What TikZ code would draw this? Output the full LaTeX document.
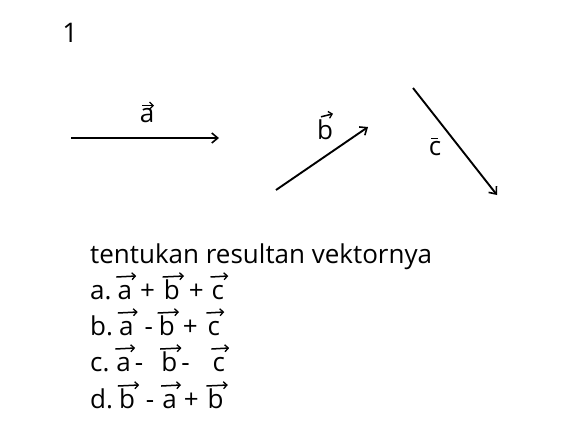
\documentclass[tikz,border=0pt]{standalone}
\usepackage{fontspec}
\setmainfont{Open Sans}
\usetikzlibrary{arrows.meta}
\tikzset{
  vec/.style={line width=1.9pt,-{Straight Barb[length=6pt,width=10pt,line width=1.6pt]}},
  lbl/.style={inner sep=0pt,font=\fontsize{26}{28}\selectfont},
  txt/.style={inner sep=0pt,anchor=base west,font=\fontsize{26}{28}\selectfont},
  sarr/.style={line width=1.5pt,-{Straight Barb[length=3.5pt,width=7pt,line width=1.3pt]}}
}
\newcommand\vecl[1]{\tikz[baseline=(X.base)]{\node[inner sep=0pt,anchor=base,draw=none] (X) at (0,0) {#1};
  \draw[sarr,overlay] ([xshift=-1pt,yshift=22pt]X.base west) -- ([xshift=4pt,yshift=23pt]X.base east);}}
\newcommand\hs[1]{\hspace{#1pt}}
\begin{document}
\begin{tikzpicture}[x=1pt,y=-1pt]
\useasboundingbox (0,0) rectangle (583,442);
\node[inner sep=0pt,font=\fontsize{27}{28}\selectfont] (num) at (70,33) {1};
% vectors
\coordinate (a0) at (71,138); \coordinate (a1) at (219,138);
\coordinate (b0) at (276,190); \coordinate (b1) at (368,127);
\coordinate (c0) at (413,88);  \coordinate (c1) at (497,195);
\draw[vec] (a0) -- (a1);
\draw[vec] (b0) -- (b1);
\draw[vec] (c0) -- (c1);
% labels
\node[lbl] (la) at (147,116) {a};
\draw[sarr] ([xshift=-5pt,yshift=3pt]la.north) -- ([xshift=7pt,yshift=3pt]la.north);
\node[lbl] (lb) at (325,130) {b};
\draw[sarr] ([xshift=-4pt,yshift=3pt]lb.north) -- ([xshift=8pt,yshift=6pt]lb.north);
\node[lbl] (lc) at (435,149) {c};
\draw[line width=1.5pt] ([xshift=-4pt,yshift=3pt]lc.north) -- ([xshift=3pt,yshift=3pt]lc.north);
% text
\node[txt] (t0) at (90,263) {tentukan resultan vektornya};
\node[txt] (t1) at (90,299) {a.\hs{6}\vecl{a}\hs{8}+\hs{9}\vecl{b}\hs{9}+\hs{8}\vecl{c}};
\node[txt] (t2) at (90,335) {b.\hs{6}\vecl{a}\hs{11}-\hs{6}\vecl{b}\hs{8}+\hs{10}\vecl{c}};
\node[txt] (t3) at (90,371) {c.\hs{7}\vecl{a}\hs{4}-\hs{18}\vecl{b}\hs{4}-\hs{23}\vecl{c}};
\node[txt] (t4) at (90,408) {d.\hs{6}\vecl{b}\hs{11}-\hs{8}\vecl{a}\hs{7}+\hs{9}\vecl{b}};
\end{tikzpicture}
\end{document}
